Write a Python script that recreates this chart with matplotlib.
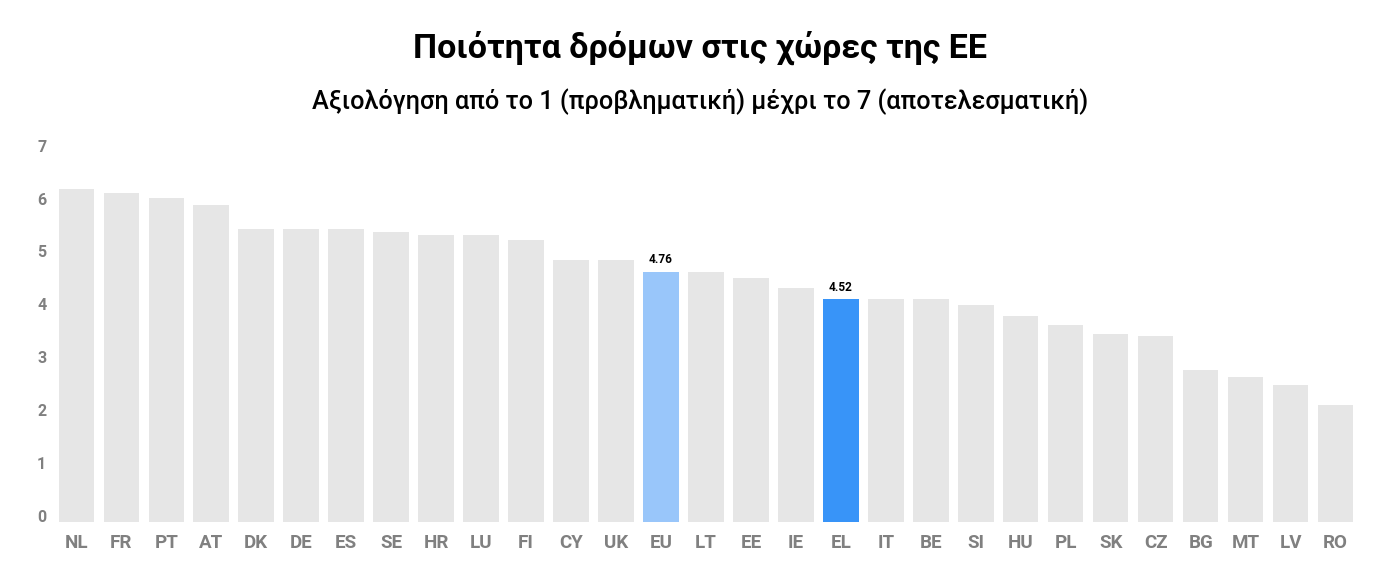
import matplotlib.pyplot as plt
from matplotlib.transforms import offset_copy

# road quality score per country
countries = ["NL", "FR", "PT", "AT", "DK", "DE", "ES", "SE", "HR", "LU", "FI", "CY", "UK", "EU",
             "LT", "EE", "IE", "EL", "IT", "BE", "SI", "HU", "PL", "SK", "CZ", "BG", "MT", "LV", "RO"]
scores = [6.29, 6.22, 6.12, 5.99, 5.54, 5.54, 5.54, 5.48, 5.42, 5.42, 5.33, 4.95, 4.95, 4.73,
          4.73, 4.61, 4.42, 4.21, 4.21, 4.21, 4.10, 3.89, 3.72, 3.55, 3.51, 2.87, 2.74, 2.59, 2.20]
# value labels printed above the highlighted bars
highlight_labels = {"EU": "4.76", "EL": "4.52"}
yticks = [0, 1, 2, 3, 4, 5, 6, 7]

grey = "#e6e6e6"
eu_blue = "#99c6fa"
el_blue = "#3894f8"
label_grey = "#808080"

plt.rcParams["font.family"] = ["Roboto", "DejaVu Sans"]

colors = []
for c in countries:
    if c == "EU":
        colors.append(eu_blue)
    elif c == "EL":
        colors.append(el_blue)
    else:
        colors.append(grey)

fig = plt.figure(figsize=(14, 5.8), dpi=100)
ax = fig.add_axes([0.0384, 0.1005, 0.9317, 0.6379])

x = range(len(countries))
bars = ax.bar(x, scores, width=0.787, color=colors, linewidth=0)

for rect, c in zip(bars, countries):
    if c in highlight_labels:
        ax.text(rect.get_x() + rect.get_width() / 2, rect.get_height(), highlight_labels[c],
                ha="center", va="bottom", fontsize=8.5, fontweight="bold", color="black",
                transform=offset_copy(ax.transData, fig=fig, y=4, units="points"))

ax.set_xlim(-0.5, len(countries) - 0.5)
ax.set_ylim(0, 7)
ax.set_xticks(list(x))
ax.set_xticklabels(countries, fontsize=13.5, fontweight="bold", color=label_grey)
ax.set_yticks(yticks)
ax.set_yticklabels([str(v) for v in yticks], fontsize=11.5, fontweight="bold", color=label_grey)
ax.tick_params(axis="x", length=0, pad=9)
ax.tick_params(axis="y", length=0, pad=12)
for t in ax.get_yticklabels():
    t.set_ha("left")
    t.set_va("baseline")
for s in ax.spines.values():
    s.set_visible(False)

fig.text(0.5, 0.917, "Ποιότητα δρόμων στις χώρες της ΕΕ", ha="center", va="center",
         fontsize=24.5, fontweight="bold", color="black")
fig.text(0.5, 0.824, "Αξιολόγηση από το 1 (προβληματική) μέχρι το 7 (αποτελεσματική)",
         ha="center", va="center", fontsize=18.2, fontweight="medium", color="black")

fig.savefig("out.png", dpi=100)
